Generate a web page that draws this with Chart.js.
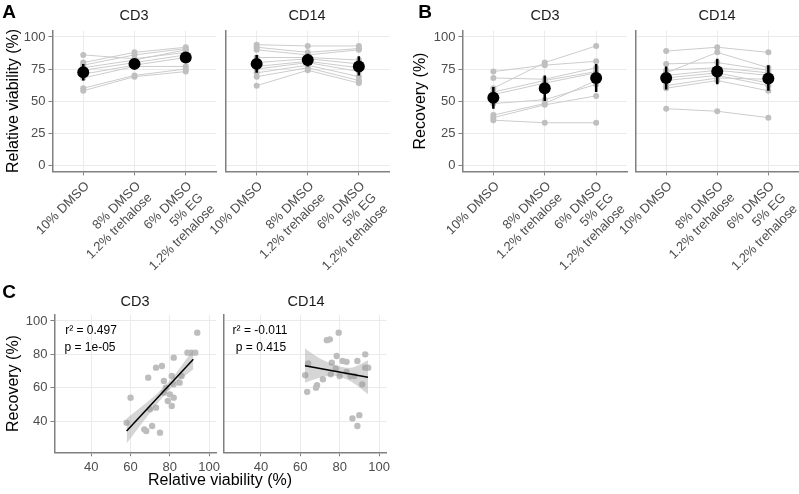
<!DOCTYPE html>
<html>
<head>
<meta charset="utf-8">
<script src="https://cdn.jsdelivr.net/npm/chart.js"></script>
<style>
  html, body { margin: 0; padding: 0; width: 799px; height: 494px; overflow: hidden; background: #fff; }
  body { position: relative; font-family: "Liberation Sans", Arial, sans-serif; }
  canvas { position: absolute; z-index: 1; }
  .txt { position: absolute; transform: translate(-50%, -50%); white-space: nowrap; z-index: 2; }
  .letra { font-weight: bold; font-size: 19px; color: #000; }
  .titulo { font-size: 14.5px; color: #1a1a1a; }
  .nota { font-size: 12px; color: #000; }
  .ejeTitulo { font-size: 16px; color: #000; }
</style>
</head>
<body>
<div class="txt letra" style="left:9px;top:12px">A</div>
<div class="txt letra" style="left:425px;top:12px">B</div>
<div class="txt letra" style="left:9px;top:292px">C</div>
<div class="txt titulo" style="left:134px;top:15px">CD3</div>
<div class="txt titulo" style="left:307px;top:15px">CD14</div>
<div class="txt titulo" style="left:545px;top:15px">CD3</div>
<div class="txt titulo" style="left:717px;top:15px">CD14</div>
<div class="txt titulo" style="left:135px;top:301px">CD3</div>
<div class="txt titulo" style="left:306px;top:301px">CD14</div>
<div class="txt nota" style="left:91px;top:330px">r² = 0.497</div>
<div class="txt nota" style="left:90px;top:347px">p = 1e-05</div>
<div class="txt nota" style="left:260px;top:330px">r² = -0.011</div>
<div class="txt nota" style="left:261px;top:347px">p = 0.415</div>
<div class="txt ejeTitulo" style="left:220px;top:480px">Relative viability (%)</div>

<script>
// Condiciones de criopreservación (etiquetas del eje x)
const condiciones = [
  ["10% DMSO"],
  ["8% DMSO", "1.2% trehalose"],
  ["6% DMSO", "5% EG", "1.2% trehalose"],
];

// Viabilidad relativa por donante (una fila por donante, una columna por condición)
const viabilidadCD3 = [
  [86, 83, 88],
  [80, 88, 92],
  [78, 86, 91],
  [76, 82, 90],
  [74, 80, 86],
  [71, 78, 84],
  [68, 77, 77],
  [60, 70, 75],
  [58, 69, 73],
];
const viabilidadCD14 = [
  [94, 93, 93],
  [92, 88, 91],
  [90, 86, 90],
  [84, 84, 82],
  [80, 83, 79],
  [77, 81, 76],
  [75, 80, 73],
  [72, 78, 69],
  [69, 76, 66],
  [62, 74, 64],
];

// Recuperación por donante
const recuperacionCD3 = [
  [73, 78, 81],
  [60, 80, 93],
  [68, 67, 76],
  [57, 66, 73],
  [55, 64, 72],
  [48, 51, 63],
  [39, 48, 66],
  [37, 47, 54],
  [35, 33, 33],
];
const recuperacionCD14 = [
  [89, 92, 88],
  [72, 88, 76],
  [79, 80, 74],
  [74, 76, 72],
  [70, 74, 70],
  [68, 72, 64],
  [66, 70, 62],
  [62, 68, 67],
  [60, 66, 58],
  [44, 42, 37],
];

// Medias e intervalos (puntos negros con barras)
const mediaViabCD3 = [72.5, 79, 84];
const infViabCD3 = [66, 75, 80];
const supViabCD3 = [79, 83, 88];
const mediaViabCD14 = [79, 82, 77];
const infViabCD14 = [72, 77, 70];
const supViabCD14 = [86, 87, 85];
const mediaRecCD3 = [52.5, 60, 68];
const infRecCD3 = [44, 50, 57];
const supRecCD3 = [61, 70, 79];
const mediaRecCD14 = [68, 73, 67.5];
const infRecCD14 = [59, 63, 58];
const supRecCD14 = [77, 83, 78];

// Panel C: viabilidad (x) frente a recuperación (y)
const dispViabCD3 = [94, 89, 91, 93, 82, 76, 73, 69, 81, 86, 77, 85, 82, 78, 80, 60, 82, 79, 81, 73, 70, 58, 67, 71, 68, 75, 77];
const dispRecCD3 = [93, 81, 81, 81, 78, 73, 72, 66, 67, 67, 64, 63, 62, 60, 56, 54, 54, 52, 49, 48, 47, 39, 35, 37, 34, 33, 57];
const dispViabCD14 = [79.5, 73.5, 75, 93, 78.5, 64, 76, 81.5, 83.5, 89, 93, 94.5, 78, 75.5, 80, 83.5, 85.5, 87.5, 62.5, 71.5, 68.5, 68, 63.5, 91.5, 86.5, 90, 89];
const dispRecCD14 = [93, 88.5, 89, 80, 79, 74.5, 75, 76, 75.5, 76, 72, 72, 71.5, 68, 67, 69.5, 67, 67, 67.5, 65, 61.5, 60, 57.5, 62, 41.5, 43.5, 37];

// Rectas de regresión (extremos) y bandas de confianza
const rectaCD3 = { x: [58, 92], y: [34, 77] };
const bandaCD3 = { x: [58, 66, 74, 82, 92], inf: [26.5, 39, 51, 61.5, 71], sup: [41.5, 49, 57, 67, 83] };
const rectaCD14 = { x: [62.4, 94.4], y: [73.2, 66.2] };
const bandaCD14 = { x: [62.4, 70, 78, 86, 94.4], inf: [63, 66, 67, 63.5, 56], sup: [83.5, 77.5, 73.5, 72, 76.5] };

const GRIS_GRID = "#ebebeb";
const GRIS_EJE = "#808080";
const GRIS_TEXTO = "#4d4d4d";
Chart.defaults.font.family = '"Liberation Sans", Arial, sans-serif';

// Crea un canvas posicionado en la página
function crearCanvas(left, top, width, height) {
  const c = document.createElement("canvas");
  c.width = width;
  c.height = height;
  c.style.left = left + "px";
  c.style.top = top + "px";
  c.style.width = width + "px";
  c.style.height = height + "px";
  document.body.appendChild(c);
  return c;
}

const aPuntos = (xs, ys) => xs.map((x, i) => ({ x: x, y: ys[i] }));

// Panel de líneas por donante (A y B)
function panelCondiciones(area, donantes, media, inf, sup, tituloY) {
  const ct = 18;
  const cw = Math.ceil(area.R - area.cl + 40);
  const ch = 292 - ct;
  const canvas = crearCanvas(area.cl, ct, cw, ch);
  const anchoY = area.L - area.cl;
  const altoX = 292 - area.B;
  const conEtiquetas = !!tituloY;

  const datasets = [];
  for (let i = 0; i < 3; i++) {
    datasets.push({
      data: [{ x: i, y: inf[i] }, { x: i, y: sup[i] }],
      borderColor: "#000",
      borderWidth: 2.5,
      pointRadius: 0,
    });
  }
  datasets.push({
    data: media.map((m, i) => ({ x: i, y: m })),
    showLine: false,
    pointRadius: 6,
    pointBackgroundColor: "#000",
    pointBorderWidth: 0,
  });
  donantes.forEach((d) => {
    datasets.push({
      data: d.map((v, i) => ({ x: i, y: v })),
      borderColor: "#cccccc",
      borderWidth: 1,
      pointRadius: 3,
      pointBackgroundColor: "#bfbfbf",
      pointBorderWidth: 0,
    });
  });

  new Chart(canvas, {
    type: "line",
    data: { datasets: datasets },
    options: {
      responsive: false,
      animation: false,
      events: [],
      layout: { padding: { top: area.T - ct, right: cw - (area.R - area.cl), left: 0, bottom: 0 } },
      plugins: { legend: { display: false }, tooltip: { enabled: false } },
      scales: {
        x: {
          type: "linear",
          min: -0.6,
          max: 2.6,
          afterBuildTicks: (s) => { s.ticks = [0, 1, 2].map((v) => ({ value: v })); },
          afterFit: (s) => { s.height = altoX; },
          grid: { color: GRIS_GRID, tickColor: GRIS_EJE, tickLength: 4 },
          border: { color: GRIS_EJE, width: 1.5 },
          ticks: {
            autoSkip: false,
            minRotation: 45,
            maxRotation: 45,
            padding: 3,
            labelOffset: 4,
            color: GRIS_TEXTO,
            font: { size: 13, lineHeight: 1.25 },
            callback: (v) => condiciones[v],
          },
        },
        y: {
          min: -5,
          max: 105,
          afterBuildTicks: (s) => { s.ticks = [0, 25, 50, 75, 100].map((v) => ({ value: v })); },
          afterFit: (s) => { s.width = anchoY; },
          grid: { color: GRIS_GRID, tickColor: GRIS_EJE, tickLength: 4, drawTicks: conEtiquetas },
          border: { color: GRIS_EJE, width: 1.5 },
          ticks: { display: conEtiquetas, padding: 3, color: GRIS_TEXTO, font: { size: 13 } },
          title: { display: conEtiquetas, text: tituloY || "", color: "#000", font: { size: 16 } },
        },
      },
    },
  });
}

// Panel de dispersión con recta de regresión (C)
function panelDispersion(area, xs, ys, recta, banda, tituloY) {
  const ct = 302;
  const cw = Math.ceil(area.R - area.cl + 20);
  const ch = 490 - ct;
  const canvas = crearCanvas(area.cl, ct, cw, ch);
  const anchoY = area.L - area.cl;
  const altoX = 490 - area.B;
  const conEtiquetas = !!tituloY;

  new Chart(canvas, {
    type: "line",
    data: {
      datasets: [
        { data: aPuntos(recta.x, recta.y), borderColor: "#000", borderWidth: 1.5, pointRadius: 0 },
        {
          data: aPuntos(banda.x, banda.sup),
          borderWidth: 0,
          pointRadius: 0,
          tension: 0.3,
          fill: "+1",
          backgroundColor: "rgba(153,153,153,0.4)",
        },
        { data: aPuntos(banda.x, banda.inf), borderWidth: 0, pointRadius: 0, tension: 0.3, fill: false },
        {
          data: aPuntos(xs, ys),
          showLine: false,
          pointRadius: 3.2,
          pointBackgroundColor: "#bdbdbd",
          pointBorderWidth: 0,
        },
      ],
    },
    options: {
      responsive: false,
      animation: false,
      events: [],
      layout: { padding: { top: area.T - ct, right: cw - (area.R - area.cl), left: 0, bottom: 0 } },
      plugins: { legend: { display: false }, tooltip: { enabled: false } },
      scales: {
        x: {
          type: "linear",
          min: 21.25,
          max: 103.75,
          afterBuildTicks: (s) => { s.ticks = [40, 60, 80, 100].map((v) => ({ value: v })); },
          afterFit: (s) => { s.height = altoX; },
          grid: { color: GRIS_GRID, tickColor: GRIS_EJE, tickLength: 4 },
          border: { color: GRIS_EJE, width: 1.5 },
          ticks: { maxRotation: 0, padding: 3, color: GRIS_TEXTO, font: { size: 13 } },
        },
        y: {
          min: 21.25,
          max: 103.75,
          afterBuildTicks: (s) => { s.ticks = [40, 60, 80, 100].map((v) => ({ value: v })); },
          afterFit: (s) => { s.width = anchoY; },
          grid: { color: GRIS_GRID, tickColor: GRIS_EJE, tickLength: 4, drawTicks: conEtiquetas },
          border: { color: GRIS_EJE, width: 1.5 },
          ticks: { display: conEtiquetas, padding: 3, color: GRIS_TEXTO, font: { size: 13 } },
          title: { display: conEtiquetas, text: tituloY || "", color: "#000", font: { size: 16 } },
        },
      },
    },
  });
}

panelCondiciones({ cl: 0, L: 52.5, R: 216.5, T: 30.6, B: 171.4 }, viabilidadCD3, mediaViabCD3, infViabCD3, supViabCD3, "Relative viability (%)");
panelCondiciones({ cl: 190, L: 226, R: 389.5, T: 30.6, B: 171.4 }, viabilidadCD14, mediaViabCD14, infViabCD14, supViabCD14, null);
panelCondiciones({ cl: 407, L: 462.5, R: 627, T: 30.6, B: 171.4 }, recuperacionCD3, mediaRecCD3, infRecCD3, supRecCD3, "Recovery (%)");
panelCondiciones({ cl: 600, L: 635.5, R: 799, T: 30.6, B: 171.4 }, recuperacionCD14, mediaRecCD14, infRecCD14, supRecCD14, null);

panelDispersion({ cl: 0, L: 54.5, R: 216.4, T: 314.75, B: 452.25 }, dispViabCD3, dispRecCD3, rectaCD3, bandaCD3, "Recovery (%)");
panelDispersion({ cl: 200, L: 224, R: 386.4, T: 314.75, B: 452.25 }, dispViabCD14, dispRecCD14, rectaCD14, bandaCD14, null);
</script>
</body>
</html>
